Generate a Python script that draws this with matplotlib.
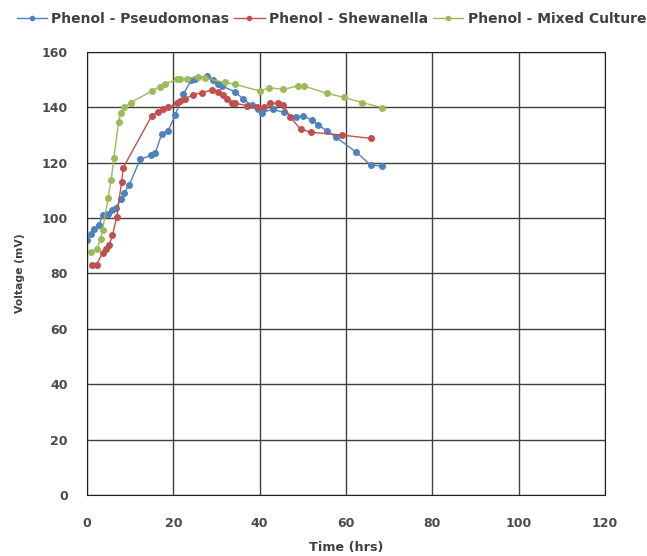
import numpy as np
import matplotlib.pyplot as plt

plt.rcParams['font.family'] = ['DejaVu Sans']

# Phenol - Pseudomonas
t_pseudo = [0, 0.85, 1.7, 2.8, 3.6, 4.8, 5.9, 6.7, 7.8, 8.6, 9.8, 12.3, 14.8, 15.8,
            17.3, 18.8, 20.4, 22.3, 24.2, 25.0, 27.7, 29.3, 30.4, 31.2, 34.3, 36.2,
            38.2, 39.7, 40.5, 43.0, 45.6, 48.4, 50.1, 52.1, 53.6, 55.7, 57.7, 62.3,
            65.7, 68.3]
v_pseudo = [92.1, 94.3, 96.2, 97.6, 101.1, 101.4, 102.9, 103.8, 106.8, 109.2, 112.0,
            121.2, 122.7, 123.4, 130.4, 131.6, 137.1, 144.8, 149.9, 150.1, 151.4,
            149.9, 148.4, 147.8, 145.6, 143.0, 140.8, 139.3, 138.1, 139.3, 138.2,
            136.6, 136.9, 135.4, 133.5, 131.5, 129.2, 123.9, 119.2, 118.8]

# Phenol - Shewanella
t_shew = [1.1, 2.2, 3.6, 4.4, 5.1, 5.9, 6.9, 8.0, 8.4, 15.0, 16.5, 17.7, 18.8, 20.8,
          21.5, 22.7, 24.6, 26.6, 29.0, 30.4, 31.4, 32.5, 33.5, 34.4, 37.0, 39.3,
          41.1, 42.4, 44.2, 45.5, 47.0, 49.5, 52.0, 59.0, 65.7]
v_shew = [83.1, 83.1, 87.5, 89.0, 90.3, 93.8, 100.5, 113.0, 118.2, 137.0, 138.4,
          139.3, 140.0, 141.5, 142.3, 143.1, 144.6, 145.3, 146.3, 145.7, 144.5,
          142.9, 141.7, 141.5, 140.6, 140.2, 140.2, 141.5, 141.5, 140.8, 136.6,
          132.1, 131.0, 130.0, 128.8]

# Phenol - Mixed Culture
t_mixed = [0.85, 2.2, 3.2, 3.6, 4.9, 5.6, 6.2, 7.3, 7.8, 8.6, 10.1, 15.0, 16.8, 18.1,
           20.8, 21.5, 23.1, 25.8, 27.3, 32.0, 34.3, 40.1, 42.2, 45.5, 48.8, 50.3,
           55.5, 59.5, 63.8, 68.4]
v_mixed = [87.9, 88.7, 92.6, 95.7, 107.4, 113.8, 121.6, 134.6, 137.8, 140.0, 141.7,
           145.9, 147.5, 148.3, 150.2, 150.2, 150.2, 151.1, 150.5, 149.0, 148.3,
           145.9, 147.1, 146.5, 147.7, 147.7, 145.1, 143.6, 141.7, 139.9]

fig = plt.figure(figsize=(6.47, 5.56), dpi=100)
ax = fig.add_axes([0.1345, 0.1097, 0.8005, 0.7968])

ax.plot(t_pseudo, v_pseudo, '-o', color='#4F81BD', lw=1, ms=4, label='Phenol - Pseudomonas')
ax.plot(t_shew, v_shew, '-o', color='#C0504D', lw=1, ms=4, label='Phenol - Shewanella')
ax.plot(t_mixed, v_mixed, '-o', color='#9BBB59', lw=1, ms=4, label='Phenol - Mixed Culture')

ax.set_xlim(0, 120)
ax.set_ylim(0, 160)
ax.set_xticks(np.arange(0, 121, 20))
ax.set_yticks(np.arange(0, 161, 20))
ax.grid(True, color='#404040', lw=1)
ax.set_axisbelow(True)
for s in ax.spines.values():
    s.set_color('#202020')
ax.tick_params(length=0, labelsize=9, colors='#4a4a4a')
ax.tick_params(axis='x', pad=15.5)
ax.tick_params(axis='y', pad=13.7)
for lab in ax.get_xticklabels() + ax.get_yticklabels():
    lab.set_fontweight('bold')

ax.set_xlabel('Time (hrs)', fontsize=9.2, fontweight='bold', color='#404040', labelpad=8)
ax.set_ylabel('Voltage (mV)', fontsize=7.8, fontweight='bold', color='#404040', labelpad=12)

leg = fig.legend(loc='center', bbox_to_anchor=(0.512, 0.966), ncol=3, frameon=False,
                 handlelength=2.2, columnspacing=0.35, handletextpad=0.3,
                 markerscale=0.75, prop={'size': 10, 'weight': 'bold'})
for txt in leg.get_texts():
    txt.set_color('#404040')

fig.savefig('out.png', dpi=100)
